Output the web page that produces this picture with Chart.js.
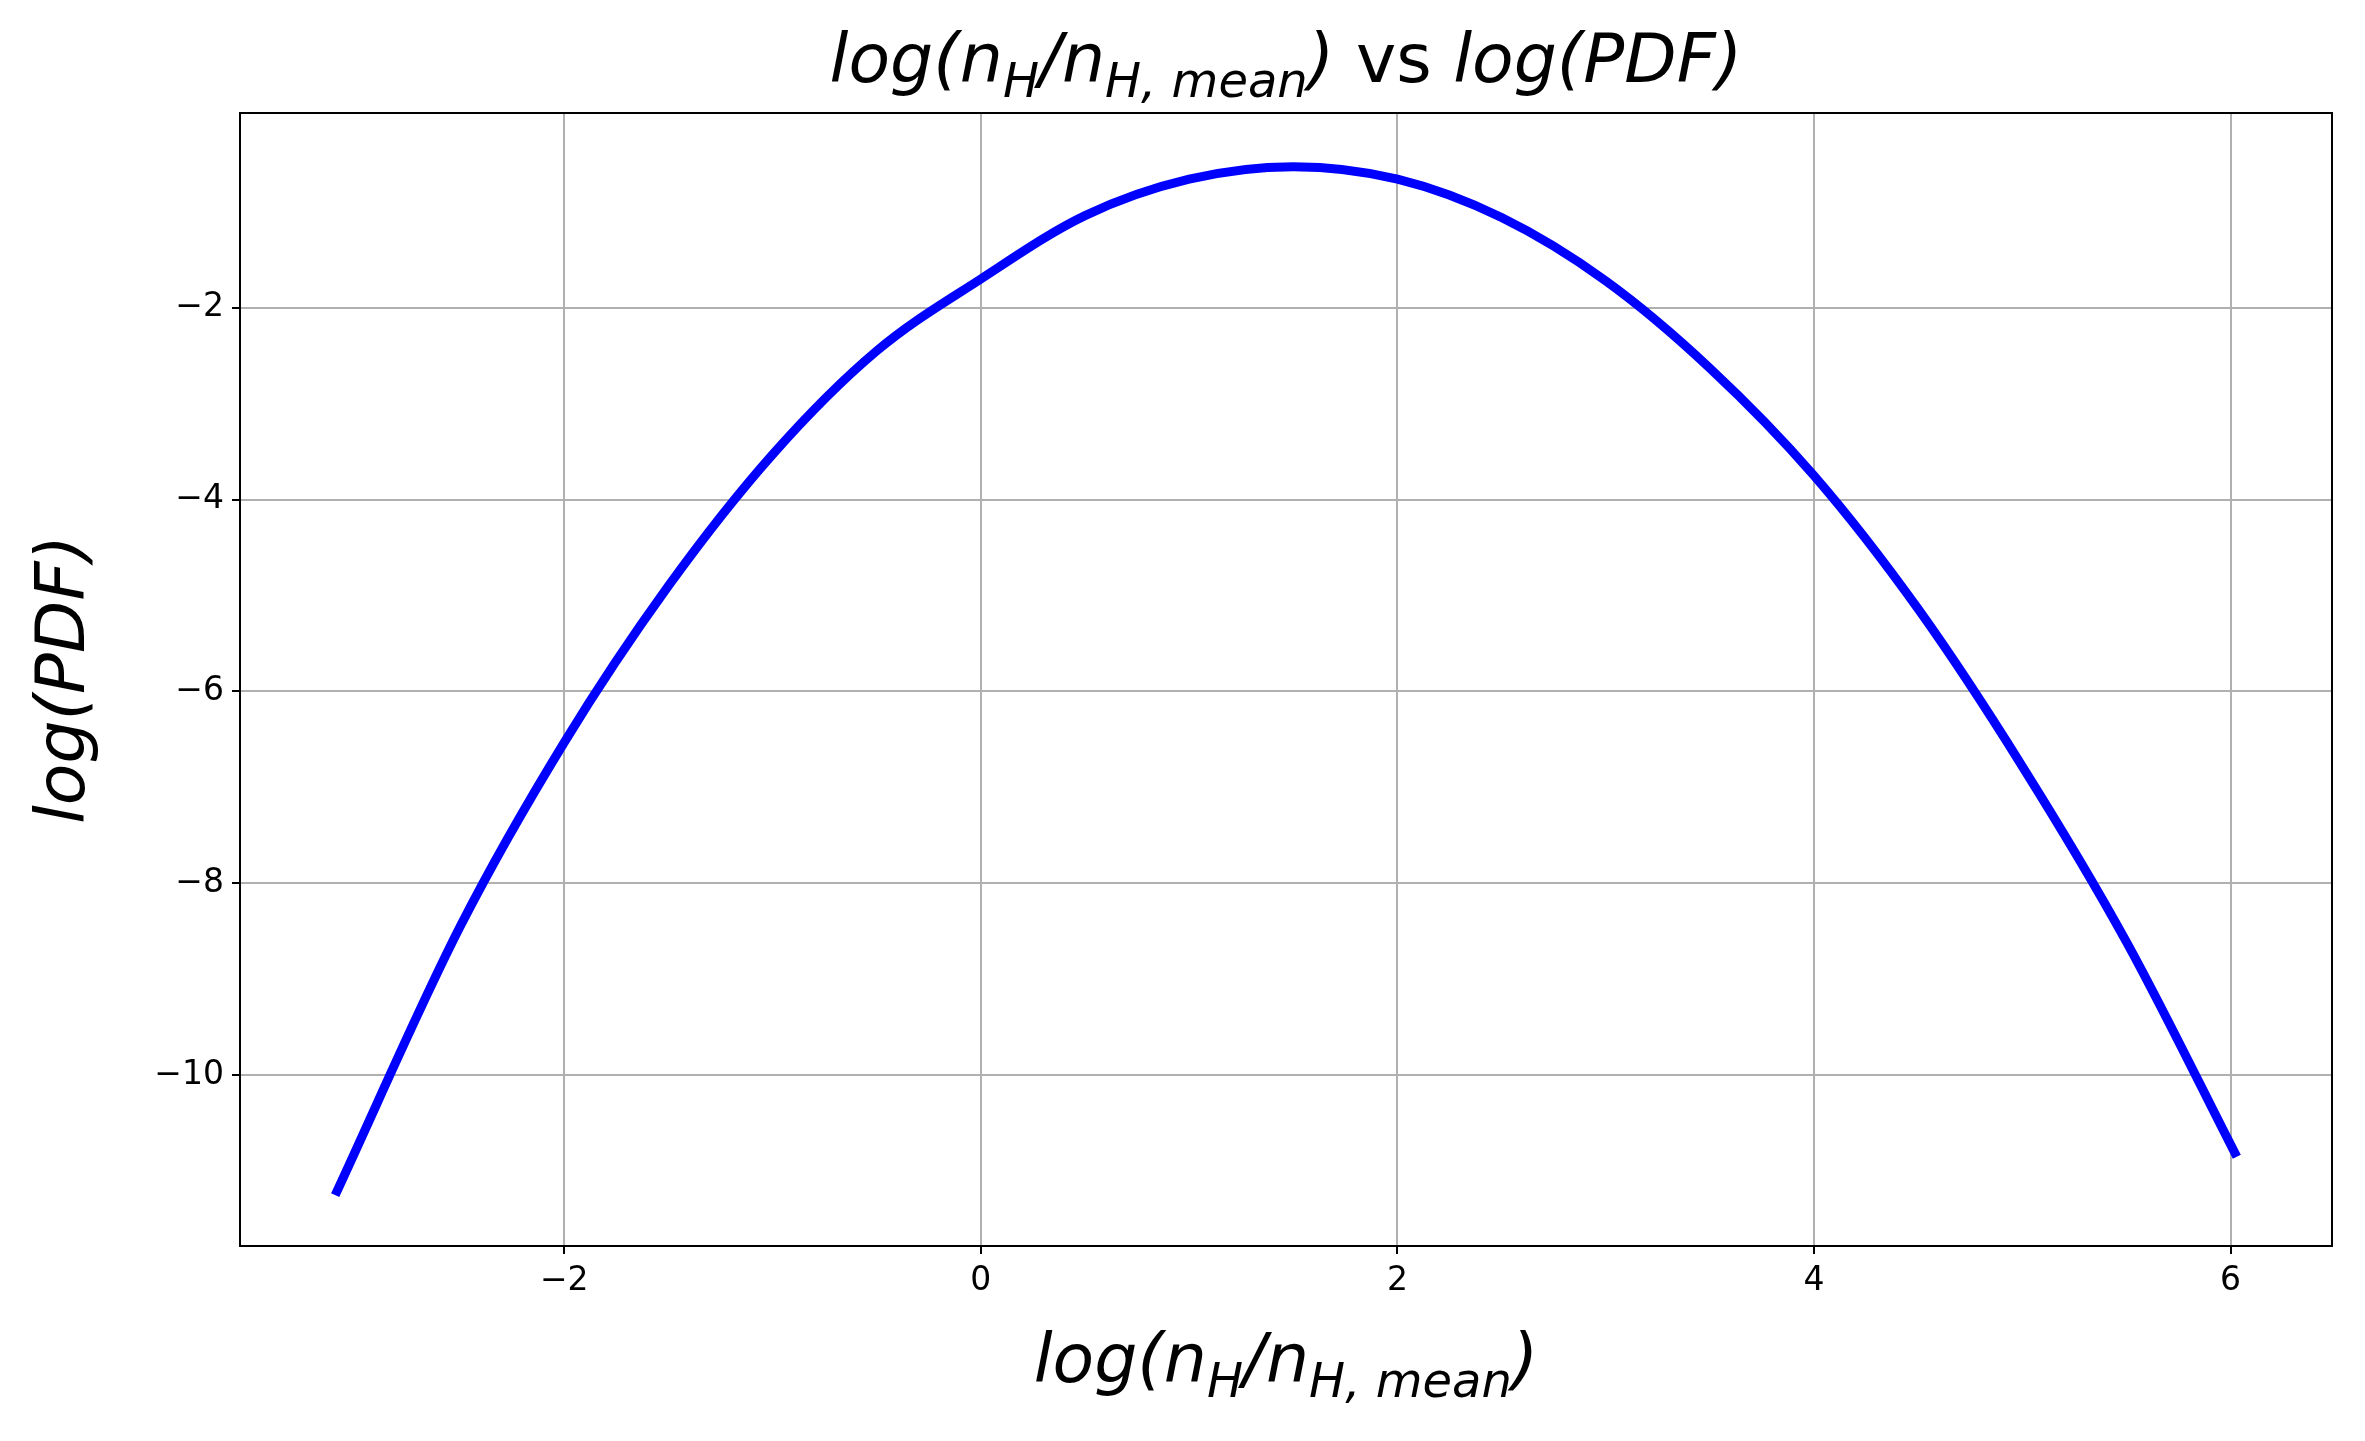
<!DOCTYPE html>
<html>
<head>
<meta charset="utf-8">
<script src="https://cdn.jsdelivr.net/npm/chart.js@4"></script>
<style>
  body { margin: 0; background: #fff; }
  #wrap { width: 2365px; height: 1441px; }
</style>
</head>
<body>
<div id="wrap"><canvas id="pdfChart" width="2365" height="1441"></canvas></div>
<script>
  // values
  const logN = [-3.1, -2.5, -2.0, -1.5, -1.0, -0.5, 0.0, 0.5, 1.0, 1.5, 2.0, 2.5, 3.0, 3.5, 4.0, 4.5, 5.0, 5.5, 6.03];
  const logPdf = [-11.25, -8.45, -6.53, -4.9, -3.53, -2.45, -1.7, -1.04, -0.66, -0.53, -0.66, -1.06, -1.72, -2.63, -3.75, -5.14, -6.78, -8.61, -10.85];
  const xTicks = [-2, 0, 2, 4, 6];
  const yTicks = [-10, -8, -6, -4, -2];

  const titleSegs = [
    { t: 'log(n', i: true }, { t: 'H', i: true, s: true }, { t: '/n', i: true },
    { t: 'H, mean', i: true, s: true }, { t: ')', i: true }, { t: ' vs ', i: false },
    { t: 'log(PDF)', i: true }
  ];
  const xLabelSegs = [
    { t: 'log(n', i: true }, { t: 'H', i: true, s: true }, { t: '/n', i: true },
    { t: 'H, mean', i: true, s: true }, { t: ')', i: true }
  ];
  const yLabelSegs = [{ t: 'log(PDF)', i: true }];

  function drawRich(ctx, segs, cx, cy, size, angle) {
    const font = (seg) => (seg.i ? 'italic ' : '') + Math.round(seg.s ? size * 0.7 : size) + 'px "DejaVu Sans"';
    let total = 0;
    segs.forEach(seg => { ctx.font = font(seg); total += ctx.measureText(seg.t).width; });
    ctx.save();
    ctx.translate(cx, cy);
    ctx.rotate(angle || 0);
    ctx.fillStyle = '#000';
    ctx.textBaseline = 'middle';
    ctx.textAlign = 'left';
    let x = -total / 2;
    segs.forEach(seg => {
      ctx.font = font(seg);
      ctx.fillText(seg.t, x, seg.s ? size * 0.3 : 0);
      x += ctx.measureText(seg.t).width;
    });
    ctx.restore();
  }

  const decorations = {
    id: 'decorations',
    afterDraw(chart) {
      const { ctx, chartArea: a } = chart;
      ctx.save();
      ctx.strokeStyle = '#000';
      ctx.lineWidth = 2;
      ctx.strokeRect(a.left, a.top, a.right - a.left, a.bottom - a.top);
      ctx.restore();
      const mid = (a.left + a.right) / 2;
      drawRich(ctx, titleSegs, mid, 64, 68);
      drawRich(ctx, xLabelSegs, mid, 1364, 68);
      drawRich(ctx, yLabelSegs, 66, (a.top + a.bottom) / 2, 68, -Math.PI / 2);
    }
  };

  const fmt = v => (v < 0 ? '\u2212' + Math.abs(v) : String(v));

  new Chart(document.getElementById('pdfChart'), {
    type: 'line',
    data: {
      datasets: [{
        data: logN.map((x, k) => ({ x: x, y: logPdf[k] })),
        borderColor: '#0000ff',
        borderWidth: 9,
        pointRadius: 0,
        cubicInterpolationMode: 'monotone',
        fill: false
      }]
    },
    options: {
      responsive: false,
      animation: false,
      layout: { padding: { top: 113, right: 33, left: 0, bottom: 0 } },
      plugins: { legend: { display: false }, tooltip: { enabled: false } },
      scales: {
        x: {
          type: 'linear',
          min: -3.557, max: 6.487,
          afterBuildTicks: s => { s.ticks = xTicks.map(v => ({ value: v })); },
          afterFit: s => { s.height = 195; },
          ticks: { callback: fmt, color: '#000', font: { family: 'DejaVu Sans', size: 33 }, padding: 8, maxRotation: 0 },
          grid: { color: '#b0b0b0', lineWidth: 2, tickLength: 8, tickColor: '#000' },
          border: { display: false }
        },
        y: {
          type: 'linear',
          min: -11.78, max: 0.03,
          afterBuildTicks: s => { s.ticks = yTicks.map(v => ({ value: v })); },
          afterFit: s => { s.width = 240; },
          ticks: { callback: fmt, color: '#000', font: { family: 'DejaVu Sans', size: 33 }, padding: 8 },
          grid: { color: '#b0b0b0', lineWidth: 2, tickLength: 8, tickColor: '#000' },
          border: { display: false }
        }
      }
    },
    plugins: [decorations]
  });
</script>
</body>
</html>
